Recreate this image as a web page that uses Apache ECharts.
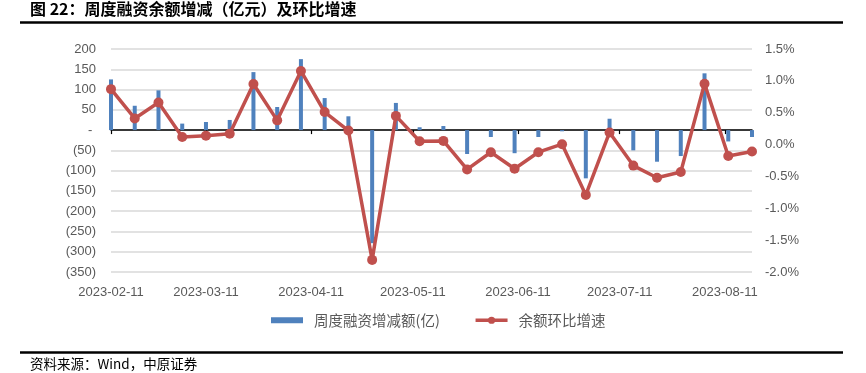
<!DOCTYPE html>
<html>
<head>
<meta charset="utf-8">
<script src="https://cdn.jsdelivr.net/npm/echarts@6/dist/echarts.min.js"></script>
<style>
html,body{margin:0;padding:0;background:#fff;}
#c{width:866px;height:373px;}
</style>
</head>
<body>
<div id="c"></div>
<script>
// ---- data ----
const dates = [
  '2023-02-11','2023-02-18','2023-02-25','2023-03-04','2023-03-11','2023-03-18','2023-03-25',
  '2023-04-01','2023-04-08','2023-04-15','2023-04-22','2023-04-29','2023-05-06','2023-05-13',
  '2023-05-20','2023-05-27','2023-06-03','2023-06-10','2023-06-17','2023-06-24','2023-07-01',
  '2023-07-08','2023-07-15','2023-07-22','2023-07-29','2023-08-05','2023-08-12','2023-08-19'
];
const weeklyChange = [
  125, 60, 98, 16, 20, 25, 143, 57, 175, 79, 34, -279, 67, 7,
  10, -59, -17, -57, -17, -3, -119, 28, -50, -78, -64, 140, -28, -17
];
const growthPct = [
  0.87, 0.41, 0.66, 0.12, 0.14, 0.17, 0.95, 0.38, 1.155, 0.51, 0.22, -1.81, 0.45, 0.053,
  0.058, -0.39, -0.12, -0.38, -0.12, 0.006, -0.79, 0.19, -0.33, -0.52, -0.43, 0.956, -0.18, -0.11
];
const tickLabels = ['2023-02-11','2023-03-11','2023-04-11','2023-05-11','2023-06-11','2023-07-11','2023-08-11'];
const axisStart = '2023-02-11';
const axisEnd = '2023-08-19';
const seriesNames = ['周度融资增减额(亿)', '余额环比增速'];
const titleText = '图 22：周度融资余额增减（亿元）及环比增速';
const sourceText = '资料来源：Wind，中原证券';

// ---- helpers: x is days since axisStart ----
const DAY = 86400000;
function utc(s){ const p = s.split('-').map(Number); return Date.UTC(p[0], p[1]-1, p[2]); }
const t0 = utc(axisStart);
function dayOf(s){ return Math.round((utc(s) - t0) / DAY); }
const labelByDay = {};
tickLabels.forEach(s => { labelByDay[dayOf(s)] = s; });

const barData = dates.map((d, i) => [dayOf(d), weeklyChange[i]]);
const lineData = dates.map((d, i) => [dayOf(d), growthPct[i]]);
const tickVals = tickLabels.map(dayOf);

const FONT = '"Liberation Sans", Arial, sans-serif';
const CJK = '"Noto Sans CJK SC", sans-serif';
const GRAY = '#595959';

const chart = echarts.init(document.getElementById('c'), null, {renderer: 'canvas'});
chart.setOption({
  animation: false,
  backgroundColor: '#ffffff',
  grid: {left: 111, right: 114, top: 49, bottom: 101, containLabel: false},
  xAxis: [
    {
      type: 'value', position: 'bottom',
      min: 0, max: dayOf(axisEnd),
      axisLine: {show: true, onZero: true, lineStyle: {color: '#000000', width: 1.5}},
      axisTick: {show: true, length: 4, inside: false, customValues: tickVals, lineStyle: {color: '#000000', width: 1.2}},
      axisLabel: {show: false},
      splitLine: {show: false}
    },
    {
      type: 'value', position: 'bottom',
      min: 0, max: dayOf(axisEnd),
      axisLine: {show: false, onZero: false},
      axisTick: {show: false},
      splitLine: {show: false},
      axisLabel: {
        show: true, customValues: tickVals, margin: 14,
        formatter: v => labelByDay[Math.round(v)] || '', hideOverlap: false,
        showMinLabel: true, showMaxLabel: true,
        color: GRAY, fontSize: 13, fontFamily: FONT
      }
    }
  ],
  yAxis: [
    {
      type: 'value', min: -350, max: 200, interval: 50, position: 'left',
      axisLine: {show: false}, axisTick: {show: false},
      splitLine: {show: true, lineStyle: {color: '#d9d9d9', width: 1.5}},
      axisLabel: {
        margin: 15, color: GRAY, fontSize: 13, fontFamily: FONT,
        formatter: v => v > 0 ? String(v) : (v === 0 ? '- ' : '(' + (-v) + ')')
      }
    },
    {
      type: 'value', min: -2.0, max: 1.5, interval: 0.5, position: 'right',
      axisLine: {show: false}, axisTick: {show: false},
      splitLine: {show: false},
      axisLabel: {
        margin: 13, color: GRAY, fontSize: 13, fontFamily: FONT,
        formatter: v => v.toFixed(1) + '%'
      }
    }
  ],
  legend: {
    left: 271, top: 313, padding: 0,
    itemWidth: 32, itemHeight: 9, itemGap: 34,
    textStyle: {color: GRAY, fontSize: 14.5, fontFamily: CJK, padding: [0, 0, 0, 6]},
    data: [
      {name: seriesNames[0], icon: 'path://M0,0 M32,9 M0,1.5 L32,1.5 L32,7.5 L0,7.5 Z'},
      {name: seriesNames[1], lineStyle: {width: 3.5}}
    ]
  },
  series: [
    {
      name: seriesNames[0], type: 'bar', xAxisIndex: 0, yAxisIndex: 0,
      data: barData, barWidth: 4,
      itemStyle: {color: '#4F81BD'}
    },
    {
      name: seriesNames[1], type: 'line', xAxisIndex: 0, yAxisIndex: 1,
      data: lineData, symbol: 'circle', symbolSize: 10,
      lineStyle: {color: '#C0504D', width: 3.5},
      itemStyle: {color: '#C0504D'}
    }
  ],
  graphic: [
    {type: 'text', left: 30, top: 1, style: {text: titleText, fontSize: 16, fontWeight: 'bold', fontFamily: CJK, fill: '#000'}},
    {type: 'line', shape: {x1: 20, y1: 22.5, x2: 843, y2: 22.5}, style: {stroke: '#000', lineWidth: 2.5}},
    {type: 'line', shape: {x1: 20, y1: 352.5, x2: 843, y2: 352.5}, style: {stroke: '#000', lineWidth: 2.5}},
    {type: 'text', left: 30, top: 357, style: {text: sourceText, fontSize: 13.5, fontFamily: CJK, fill: '#000'}}
  ]
});
</script>
</body>
</html>
